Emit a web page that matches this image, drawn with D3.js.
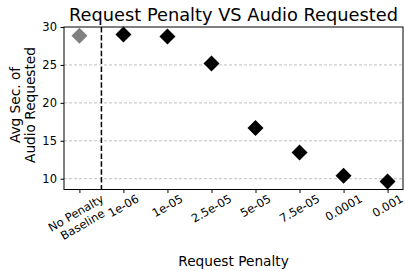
<!DOCTYPE html>
<html><head><meta charset="utf-8">
<script src="https://cdn.jsdelivr.net/npm/d3@7"></script>
<style>body{margin:0;background:#fff}svg{display:block;font-family:"DejaVu Sans",sans-serif}</style>
</head><body>
<svg id="c" width="405" height="271"></svg>
<script>
const categories = ["No Penalty\nBaseline","1e-06","1e-05","2.5e-05","5e-05","7.5e-05","0.0001","0.001"];
const values = [28.85, 29.0, 28.75, 25.2, 16.7, 13.45, 10.4, 9.65];
const yTicks = [10, 15, 20, 25, 30];
const title = "Request Penalty VS Audio Requested";
const xLabel = "Request Penalty";
const yLabel = ["Avg Sec. of", "Audio Requested"];

const svg = d3.select("#c");
const L = 64, R = 403, T = 27, B = 189.5;
const x = d3.scaleLinear().domain([-0.35, categories.length - 1 + 0.35]).range([L, R]);
const y = d3.scaleLinear().domain([8.58, 30]).range([B, T]);

// grid
svg.append("g").selectAll("line").data(yTicks.filter(d => d < 30)).join("line")
  .attr("x1", L).attr("x2", R).attr("y1", d => y(d)).attr("y2", d => y(d))
  .attr("stroke", "#b0b0b0").attr("stroke-width", 0.8).attr("stroke-dasharray", "3,2");

// baseline separator
svg.append("line").attr("x1", x(0.5)).attr("x2", x(0.5)).attr("y1", T).attr("y2", B)
  .attr("stroke", "#000").attr("stroke-width", 1.5).attr("stroke-dasharray", "5.5,2.4");

// markers
const diamond = d3.symbol().type(d3.symbolSquare).size(128);
svg.append("g").selectAll("path").data(values).join("path")
  .attr("d", diamond())
  .attr("transform", (d, i) => `translate(${x(i)},${y(d)}) rotate(45)`)
  .attr("fill", (d, i) => i === 0 ? "#808080" : "#000");

// frame
svg.append("rect").attr("x", L).attr("y", T).attr("width", R - L).attr("height", B - T)
  .attr("fill", "none").attr("stroke", "#000").attr("stroke-width", 1);

// y axis
const ya = svg.append("g").attr("transform", `translate(${L},0)`)
  .call(d3.axisLeft(y).tickValues(yTicks).tickSize(3.5).tickPadding(3.5).tickFormat(d3.format("d")));
ya.select(".domain").remove();
ya.selectAll("text").attr("font-size", 11.5).attr("font-family", "DejaVu Sans").attr("fill", "#000");

// x axis ticks
const xa = svg.append("g").attr("transform", `translate(0,${B})`)
  .call(d3.axisBottom(x).tickValues(d3.range(categories.length)).tickSize(3.5).tickFormat(""));
xa.select(".domain").remove();

// x tick labels rotated 30, centered
const lab = svg.append("g");
categories.forEach((c, i) => {
  const g = lab.append("g");
  const t = g.append("text").attr("font-size", 11.5).attr("text-anchor", "middle").attr("fill", "#000");
  const lines = c.split("\n");
  lines.forEach((ln, k) => t.append("tspan").attr("x", 0).attr("dy", k === 0 ? 0 : "1.15em").text(ln));
  const bb = t.node().getBBox();
  t.attr("transform", `translate(${-(bb.x + bb.width / 2)},${-(bb.y + bb.height / 2)})`);
  const a = Math.PI / 6;
  const rh = bb.width * Math.sin(a) + bb.height * Math.cos(a);
  const y0 = B + 2;
  g.attr("transform", `translate(${x(i)},${y0 + rh / 2}) rotate(-30)`);
});

// title
svg.append("text").attr("x", (L + R) / 2).attr("y", 20.5).attr("text-anchor", "middle")
  .attr("font-size", 17.8).attr("fill", "#000").text(title);

// x label
svg.append("text").attr("x", (L + R) / 2).attr("y", 266).attr("text-anchor", "middle")
  .attr("font-size", 13.7).attr("fill", "#000").text(xLabel);

// y label
const yl = svg.append("text").attr("transform", `translate(20,105) rotate(-90)`)
  .attr("text-anchor", "middle").attr("font-size", 13.7).attr("fill", "#000");
yLabel.forEach((ln, k) => yl.append("tspan").attr("x", 0).attr("dy", k === 0 ? 0 : "1.12em").text(ln));
</script>
</body></html>
